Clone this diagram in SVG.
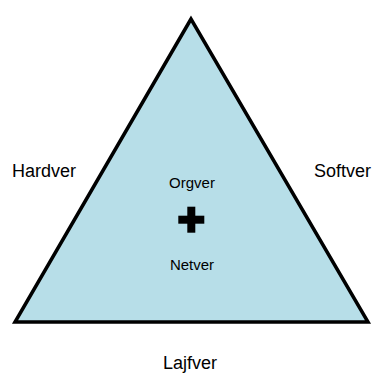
<svg xmlns="http://www.w3.org/2000/svg" width="374" height="374" viewBox="0 0 374 374">
<style>
.lbl{font-family:"Liberation Sans",Arial,sans-serif;font-size:18px;fill:#000;text-anchor:middle}
.in{font-size:15px}
</style>
<rect width="374" height="374" fill="#fff"/>
<g id="triangle">
<polygon points="191,19 15,322 368,322" fill="#b7dee8" stroke="#000" stroke-width="3.5" stroke-linejoin="miter"/>
</g>
<g id="hardver"><text class="lbl" x="44" y="177">Hardver</text></g>
<g id="softver"><text class="lbl" x="342.5" y="177">Softver</text></g>
<g id="lajfver"><text class="lbl" x="190" y="368.5">Lajfver</text></g>
<g id="orgver"><text class="lbl in" x="192" y="188">Orgver</text></g>
<g id="netver"><text class="lbl in" x="192" y="270">Netver</text></g>
<g id="plus">
<rect x="178.3" y="215.7" width="26" height="8" fill="#000"/>
<rect x="187.3" y="206.7" width="8" height="26" fill="#000"/>
</g>
</svg>
